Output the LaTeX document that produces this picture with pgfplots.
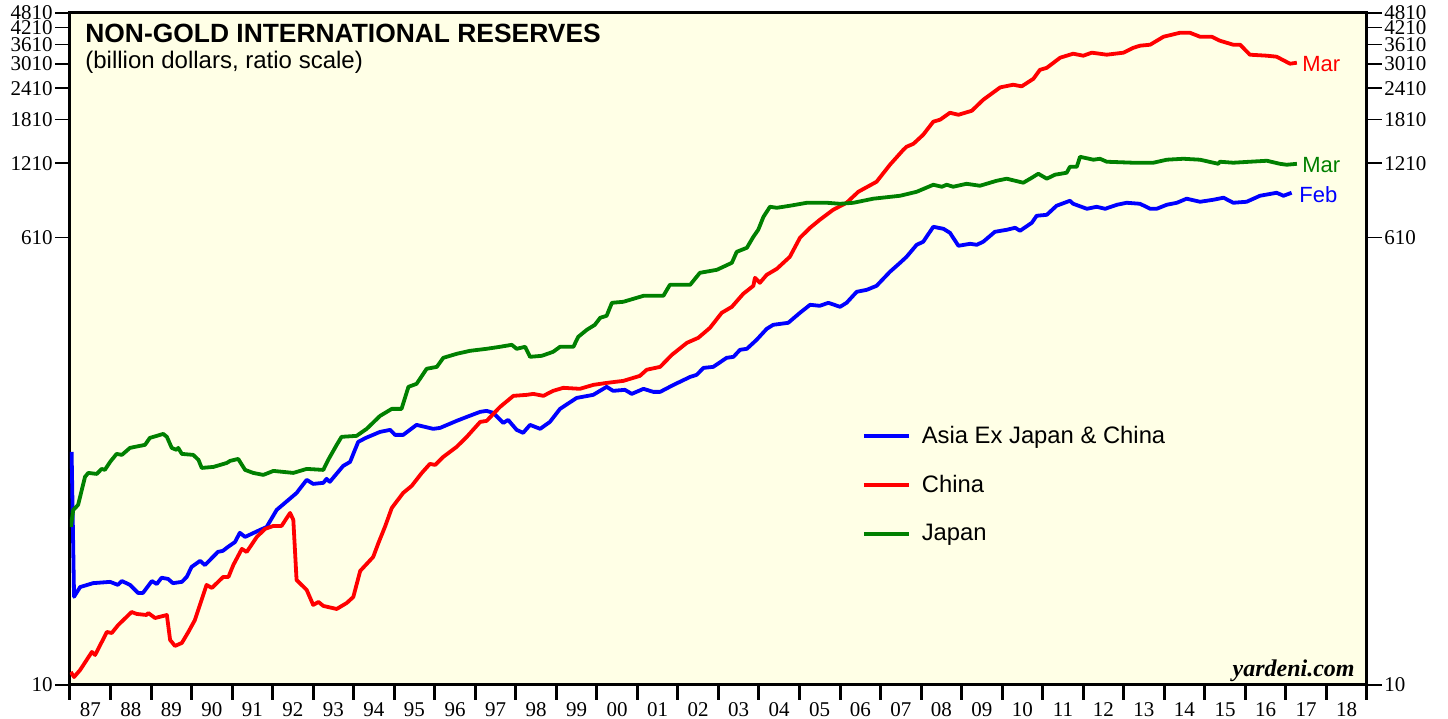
\documentclass[border=0pt]{standalone}
\usepackage{fontspec}
\setmainfont{Liberation Serif}
\newfontfamily\arial{Liberation Sans}
\usepackage{pgfplots}
\pgfplotsset{compat=1.18}
\definecolor{bgyel}{RGB}{255,255,230}
\definecolor{jpgreen}{RGB}{0,128,0}
\definecolor{asblue}{RGB}{0,0,255}
\definecolor{cnred}{RGB}{255,0,0}

\begin{document}
\begin{tikzpicture}
\begin{axis}[name=ax,
  scale only axis, width=648.5pt, height=336pt,
  xmin=1987, xmax=2019, ymode=log, ymin=10, ymax=4810,
  ytick={10,610,1210,1810,2410,3010,3610,4210,4810},
  yticklabels={10,610,1210,1810,2410,3010,3610,4210,4810},
  tick align=outside, major tick length=7.5pt,
  tick label style={font=\fontsize{10.5}{12}\selectfont},
  yticklabel style={inner sep=1pt},
  y tick style={line width=0.7pt, black},
  axis background/.style={fill=bgyel},
  axis line style={line width=1.5pt},
  ytick pos=left, xtick pos=left,
  xtick={1987,...,2019},
  xticklabels={87,88,89,90,91,92,93,94,95,96,97,98,99,00,01,02,03,04,05,06,07,08,09,10,11,12,13,14,15,16,17,18},
  x tick label as interval,
  xticklabel style={inner sep=1pt},
  x tick style={line width=1.5pt, black},
  legend cell align=left,
  legend image code/.code={\draw[line width=2pt] (0pt,0pt) -- (22.5pt,0pt); \path (26pt,0pt);},
  legend style={at={(0.6106,0.3912)}, anchor=north west, draw=none, fill=none,
    inner sep=0pt, outer sep=0pt, row sep=10.4pt,
    font=\arial\fontsize{11.9}{14}\selectfont},
]
% Asia ex Japan & China
\addplot[asblue, line width=1.9pt, line join=round] coordinates {
(1987.04,85.2) (1987.10,22.5) (1987.25,24.6) (1987.57,25.5) (1987.99,25.8) (1988.18,25.1) (1988.28,26.0) (1988.48,25.1) (1988.68,23.3) (1988.80,23.3)
(1989.02,26.0) (1989.14,25.3) (1989.26,26.8) (1989.42,26.5) (1989.54,25.5) (1989.76,25.8) (1989.88,27.0) (1990.00,29.6) (1990.21,31.3) (1990.33,30.1)
(1990.65,34.0) (1990.77,34.3) (1990.90,35.6) (1991.07,37.2) (1991.19,40.5) (1991.32,39.0) (1991.69,41.6) (1991.85,42.7) (1992.10,50.0) (1992.39,54.8)
(1992.59,58.4) (1992.84,65.9) (1993.00,63.5) (1993.25,64.1) (1993.33,66.5) (1993.41,64.7) (1993.74,74.9) (1993.91,77.7) (1994.11,93.4) (1994.30,96.9)
(1994.65,102.4) (1994.90,104.3) (1995.02,99.6) (1995.22,99.6) (1995.55,109.2) (1995.96,105.3) (1996.13,106.2) (1996.54,113.3) (1996.79,117.5) (1997.12,123.1)
(1997.28,124.2) (1997.44,122.0) (1997.69,111.2) (1997.81,114.3) (1998.02,104.3) (1998.18,101.5) (1998.35,109.2) (1998.60,105.3) (1998.84,112.2) (1999.09,126.5)
(1999.50,139.9) (1999.91,143.9) (2000.24,154.9) (2000.40,149.3) (2000.69,150.7) (2000.86,145.2) (2001.15,152.1) (2001.39,147.9) (2001.56,147.9) (2001.89,157.7)
(2002.30,169.7) (2002.46,172.9) (2002.63,184.4) (2002.87,186.1) (2003.20,202.2) (2003.37,204.1) (2003.53,217.7) (2003.70,219.7) (2003.94,238.6) (2004.19,264.0)
(2004.35,273.9) (2004.72,279.0) (2005.01,305.9) (2005.26,329.2) (2005.50,326.2) (2005.71,335.3) (2006.00,323.2) (2006.16,335.3) (2006.41,371.0) (2006.66,377.9)
(2006.90,392.0) (2007.23,445.9) (2007.48,484.3) (2007.64,511.8) (2007.89,571.5) (2008.05,587.5) (2008.30,674.3) (2008.55,662.0) (2008.71,638.1) (2008.92,566.3)
(2009.21,576.8) (2009.37,571.5) (2009.53,587.5) (2009.82,644.1) (2010.11,655.9) (2010.32,668.2) (2010.44,650.0) (2010.73,699.6) (2010.85,746.2) (2011.10,753.0)
(2011.34,818.0) (2011.67,856.5) (2011.75,833.1) (2012.09,795.7) (2012.33,810.4) (2012.54,795.7) (2012.83,825.5) (2013.07,840.9) (2013.40,833.1) (2013.65,795.7)
(2013.81,795.7) (2014.06,825.5) (2014.31,840.9) (2014.55,873.0) (2014.88,848.6) (2015.21,864.5) (2015.46,881.0) (2015.70,840.9) (2016.03,848.6) (2016.36,896.8)
(2016.77,921.8) (2016.94,896.8) (2017.14,921.8)
};
\addlegendentry{Asia Ex Japan \& China}
% China
\addplot[cnred, line width=1.9pt, line join=round] coordinates {
(1987.02,11.27) (1987.10,10.76) (1987.25,11.48) (1987.54,13.55) (1987.62,13.18) (1987.91,16.28) (1988.03,16.13) (1988.19,17.36) (1988.52,19.56) (1988.65,19.21)
(1988.89,19.03) (1988.93,19.38) (1989.10,18.51) (1989.39,19.03) (1989.47,15.13) (1989.59,14.32) (1989.76,14.72) (1989.92,16.28) (1990.08,18.15) (1990.37,25.08)
(1990.50,24.40) (1990.78,27.00) (1990.91,27.00) (1991.03,30.14) (1991.24,34.93) (1991.36,33.97) (1991.61,39.00) (1991.81,41.97) (1992.02,43.15) (1992.22,43.15)
(1992.43,48.62) (1992.51,45.58) (1992.59,26.26) (1992.84,23.95) (1993.00,20.87) (1993.13,21.45) (1993.25,20.68) (1993.58,20.11) (1993.83,21.26) (1993.99,22.46)
(1994.16,28.53) (1994.48,32.44) (1994.61,36.90) (1994.77,42.75) (1994.94,50.91) (1995.22,58.43) (1995.43,62.32) (1995.68,70.23) (1995.88,76.30) (1996.01,75.60)
(1996.21,81.39) (1996.54,89.22) (1996.79,97.84) (1997.12,112.2) (1997.28,113.3) (1997.61,128.8) (1997.94,142.6) (1998.27,143.9) (1998.43,145.2) (1998.68,142.6)
(1998.92,149.3) (1999.17,153.5) (1999.58,152.1) (1999.91,157.7) (2000.24,160.6) (2000.65,163.6) (2001.06,171.3) (2001.23,181.3) (2001.56,186.1) (2001.85,207.9)
(2002.22,232.1) (2002.50,243.0) (2002.79,266.4) (2003.08,305.9) (2003.33,323.2) (2003.61,364.2) (2003.86,392.0) (2003.90,421.9) (2004.02,402.9) (2004.19,433.7)
(2004.44,458.3) (2004.76,511.8) (2005.01,609.5) (2005.26,668.2) (2005.50,719.2) (2005.83,788.4) (2006.16,840.9) (2006.45,930.3) (2006.90,1020) (2007.23,1192.5)
(2007.56,1368) (2007.64,1407) (2007.81,1446) (2008.05,1571) (2008.30,1772) (2008.47,1805) (2008.71,1923) (2008.92,1888) (2009.25,1959) (2009.53,2166)
(2009.95,2428) (2010.27,2488) (2010.48,2451) (2010.77,2628) (2010.93,2853) (2011.10,2906) (2011.43,3190) (2011.75,3309) (2012.00,3249) (2012.21,3340)
(2012.58,3279) (2012.99,3340) (2013.24,3496) (2013.40,3562) (2013.65,3594) (2013.98,3868) (2014.39,4013) (2014.63,4013) (2014.88,3868) (2015.17,3868)
(2015.37,3729) (2015.70,3594) (2015.87,3594) (2016.11,3279) (2016.53,3249) (2016.77,3219) (2017.10,3018) (2017.27,3046)
};
\addlegendentry{China}
% Japan
\addplot[jpgreen, line width=1.9pt, line join=round] coordinates {
(1987.02,42.75) (1987.08,49.98) (1987.20,52.33) (1987.37,67.70) (1987.45,70.23) (1987.66,69.59) (1987.78,72.87) (1987.86,72.20) (1987.99,77.72) (1988.15,83.64)
(1988.28,82.88) (1988.48,88.38) (1988.60,89.22) (1988.85,90.86) (1988.97,96.89) (1989.14,98.70) (1989.30,100.5) (1989.39,97.84) (1989.51,88.38) (1989.63,86.77)
(1989.67,88.38) (1989.76,83.64) (1990.04,82.88) (1990.17,79.15) (1990.25,73.54) (1990.54,74.22) (1990.87,76.99) (1990.95,78.44) (1991.15,79.88) (1991.32,72.20)
(1991.52,70.23) (1991.77,68.96) (1992.02,71.54) (1992.51,70.23) (1992.84,72.87) (1993.25,72.20) (1993.37,79.15) (1993.58,90.86) (1993.70,97.84) (1994.07,98.70)
(1994.32,105.3) (1994.65,118.6) (1994.94,126.5) (1995.18,126.5) (1995.35,154.9) (1995.55,159.2) (1995.80,182.9) (1996.05,186.1) (1996.21,202.2) (1996.54,209.8)
(1996.87,215.7) (1997.28,219.7) (1997.61,223.8) (1997.90,227.9) (1998.02,219.7) (1998.23,223.8) (1998.35,204.1) (1998.64,206.0) (1998.92,213.7) (1999.09,223.8)
(1999.42,223.8) (1999.54,245.3) (1999.75,261.5) (1999.95,273.9) (2000.08,292.1) (2000.24,297.6) (2000.37,335.3) (2000.65,338.4) (2001.15,357.6) (2001.64,357.6)
(2001.80,395.6) (2002.30,395.6) (2002.54,441.7) (2002.96,454.1) (2003.33,484.3) (2003.45,535.8) (2003.70,555.9) (2003.86,615.1) (2003.98,655.9) (2004.11,739.4)
(2004.27,810.4) (2004.44,803.0) (2004.76,818.0) (2005.18,840.9) (2005.67,840.9) (2006.00,833.1) (2006.33,840.9) (2006.82,873.0) (2007.48,896.8) (2007.89,930.3)
(2008.30,992.2) (2008.51,974.3) (2008.63,992.2) (2008.79,974.3) (2009.12,1001) (2009.45,983.2) (2009.86,1029) (2010.11,1049) (2010.52,1011) (2010.73,1058)
(2010.89,1098) (2011.10,1049) (2011.30,1088) (2011.59,1108) (2011.67,1170) (2011.84,1170) (2011.92,1283) (2012.25,1249) (2012.41,1260) (2012.58,1226)
(2013.23,1215) (2013.73,1215) (2014.06,1249) (2014.47,1260) (2014.88,1249) (2015.33,1203) (2015.37,1226) (2015.70,1215) (2016.11,1226) (2016.53,1237)
(2016.85,1203) (2017.02,1192.5) (2017.27,1203)
};
\addlegendentry{Japan}
\end{axis}
\begin{axis}[
  scale only axis, width=648.5pt, height=336pt,
  xmin=1987, xmax=2019, ymode=log, ymin=10, ymax=4810,
  ytick={10,610,1210,1810,2410,3010,3610,4210,4810},
  yticklabels={10,610,1210,1810,2410,3010,3610,4210,4810},
  tick align=outside, major tick length=7.5pt,
  tick label style={font=\fontsize{10.5}{12}\selectfont},
  yticklabel style={inner sep=1pt},
  y tick style={line width=0.7pt, black},
  xtick=\empty, axis line style={draw=none},
  ytick pos=right, yticklabel pos=right,
]
\end{axis}
\node[anchor=base west, inner sep=0pt, font=\arial\bfseries\fontsize{13.2}{15}\selectfont]
  at ([xshift=7.5pt,yshift=-14.5pt]ax.north west) {NON-GOLD INTERNATIONAL RESERVES};
\node[anchor=base west, inner sep=0pt, font=\arial\fontsize{12}{14}\selectfont]
  at ([xshift=7.5pt,yshift=-27.5pt]ax.north west) {(billion dollars, ratio scale)};
\node[anchor=base east, inner sep=0pt, font=\bfseries\itshape\fontsize{12}{14}\selectfont]
  at ([xshift=-6pt,yshift=4pt]ax.south east) {yardeni.com};
\node[anchor=west, inner sep=0pt, text=cnred, font=\arial\fontsize{11}{13}\selectfont]
  at ([xshift=616pt,yshift=-25.5pt]ax.north west) {Mar};
\node[anchor=west, inner sep=0pt, text=jpgreen, font=\arial\fontsize{11}{13}\selectfont]
  at ([xshift=616pt,yshift=-76pt]ax.north west) {Mar};
\node[anchor=west, inner sep=0pt, text=asblue, font=\arial\fontsize{11}{13}\selectfont]
  at ([xshift=614.5pt,yshift=-91pt]ax.north west) {Feb};
\path (ax.south west) ++(-35pt,-16pt) rectangle ++(724pt,358.5pt);
\end{tikzpicture}
\end{document}
